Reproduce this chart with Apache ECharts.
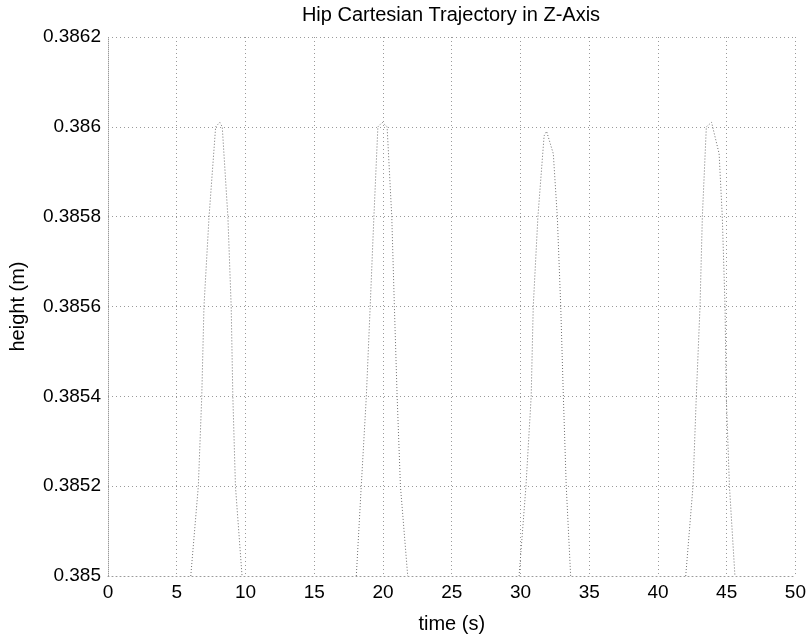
<!DOCTYPE html>
<html>
<head>
<meta charset="utf-8">
<title>Hip Cartesian Trajectory in Z-Axis</title>
<script src="https://cdn.jsdelivr.net/npm/echarts@6/dist/echarts.min.js"></script>
<style>
  html, body { margin: 0; padding: 0; background: #ffffff; }
  #chart { width: 809px; height: 639px; }
</style>
</head>
<body>
<div id="chart"></div>
<script>
// Hip height over time; null entries split the four swing phases
// (the trajectory dips below the plotted range between them).
const time_s = [
  6.02, 6.57, 6.82, 6.98, 7.35, 7.83, 8.13, 8.31, 8.72, 8.96, 9.08, 9.27, 9.75,
  14,
  18.06, 18.42, 18.79, 19.07, 19.34, 19.63, 19.95, 20.3, 20.64, 20.83, 21.03, 21.27, 21.8,
  26,
  29.9, 30.4, 30.78, 30.93, 31.27, 31.72, 31.9, 32.39, 32.68, 32.93, 33.12, 33.33, 33.65,
  38,
  42.02, 42.55, 42.79, 43.06, 43.23, 43.52, 43.9, 44.45, 44.68, 44.88, 44.97, 45.2, 45.6
];
const height_m = [
  0.3850, 0.3852, 0.3854, 0.3856, 0.3858, 0.3860, 0.38601, 0.3860, 0.3858, 0.3856, 0.3854, 0.3852, 0.3850,
  null,
  0.3850, 0.3852, 0.3854, 0.3856, 0.3858, 0.3860, 0.38601, 0.3860, 0.3858, 0.3856, 0.3854, 0.3852, 0.3850,
  null,
  0.3850, 0.3852, 0.3854, 0.3856, 0.3858, 0.38598, 0.38599, 0.38594, 0.3858, 0.3856, 0.3854, 0.3852, 0.3850,
  null,
  0.3850, 0.3852, 0.3854, 0.3856, 0.3858, 0.3860, 0.38601, 0.38594, 0.3858, 0.3856, 0.3854, 0.3852, 0.3850
];

const xTicks = { min: 0, max: 50, step: 5 };
const yTicks = { min: 0.385, max: 0.3862, step: 0.0002 };

const points = time_s.map((t, i) => [t, height_m[i] === null ? '-' : height_m[i]]);

const FONT = '"Liberation Sans", Arial, Helvetica, sans-serif';
const gridLine = { color: '#9a9a9a', width: 1, type: [1, 3] };

const chart = echarts.init(document.getElementById('chart'), null, { renderer: 'canvas' });
chart.setOption({
  animation: false,
  backgroundColor: '#ffffff',
  textStyle: { fontFamily: FONT },
  grid: { left: 105, right: 12, top: 37, bottom: 56, containLabel: false },
  graphic: [{
    type: 'text',
    x: 451, y: 15,
    style: {
      text: 'Hip Cartesian Trajectory in Z-Axis',
      font: '20px ' + FONT,
      fill: '#000',
      align: 'center',
      verticalAlign: 'middle'
    }
  }],
  xAxis: {
    type: 'value',
    min: xTicks.min, max: xTicks.max, interval: xTicks.step,
    name: 'time (s)',
    nameLocation: 'middle',
    nameGap: 38,
    nameTextStyle: { color: '#000', fontSize: 20, fontFamily: FONT },
    axisLine: { show: true, lineStyle: gridLine },
    axisTick: { show: false },
    axisLabel: { color: '#000', fontSize: 19, fontFamily: FONT, margin: 7 },
    splitLine: { show: true, lineStyle: gridLine }
  },
  yAxis: {
    type: 'value',
    min: yTicks.min, max: yTicks.max, interval: yTicks.step,
    name: 'height (m)',
    nameLocation: 'middle',
    nameGap: 80,
    nameRotate: 90,
    nameTextStyle: { color: '#000', fontSize: 20, fontFamily: FONT },
    axisLine: { show: true, lineStyle: gridLine },
    axisTick: { show: false },
    axisLabel: {
      color: '#000', fontSize: 19, fontFamily: FONT, margin: 7,
      formatter: v => String(+v.toFixed(4))
    },
    splitLine: { show: true, lineStyle: gridLine }
  },
  series: [{
    type: 'line',
    data: points,
    showSymbol: false,
    connectNulls: false,
    clip: true,
    lineStyle: { color: '#707070', width: 1, type: [1, 2] }
  }]
});
</script>
</body>
</html>
